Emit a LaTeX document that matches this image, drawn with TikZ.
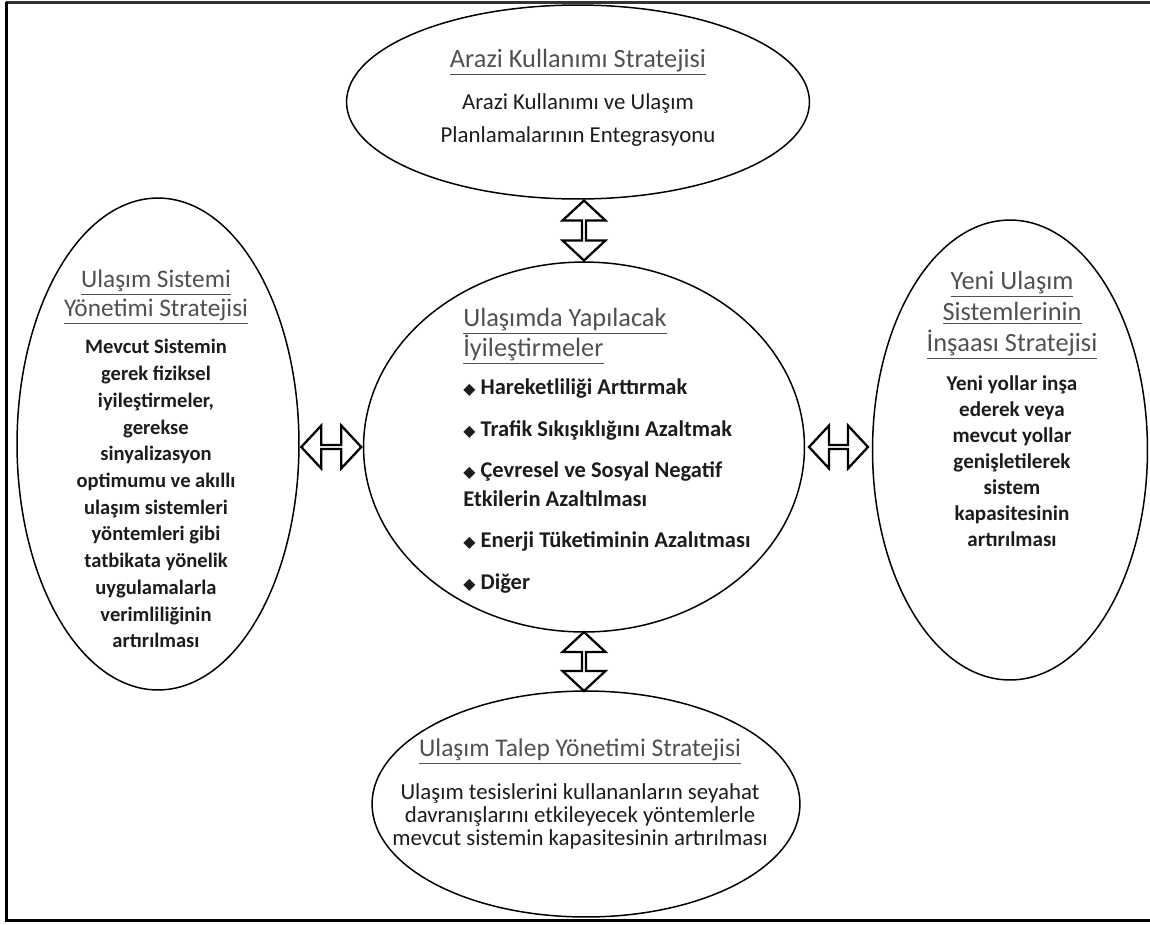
\documentclass[tikz,border=0pt]{standalone}
\usepackage{fontspec}
\setmainfont{Carlito}
\newfontfamily\symfont{DejaVu Sans}
\usepackage{xcolor}
\usetikzlibrary{positioning, shapes.geometric, shapes.arrows, calc}

\definecolor{headgray}{HTML}{505050}
\definecolor{bodyblack}{HTML}{1C1C1C}
\newcommand{\ulhead}[1]{\underline{#1}}
\newcommand{\itm}{{\symfont\fontsize{9pt}{9pt}\selectfont ◆}\ }

\begin{document}
\begin{tikzpicture}[x=0.02cm, y=-0.02cm,
  ell/.style={draw, ellipse, line width=0.85pt, inner sep=0pt},
  head/.style={align=center, text=headgray, inner sep=0pt},
  body/.style={align=center, text=bodyblack, inner sep=0pt},
  dblarrow/.style={draw, double arrow, line width=1.3pt, fill=white, inner sep=0pt,
    minimum width=0.86cm, double arrow head extend=0.23cm, double arrow tip angle=94}]
\useasboundingbox (0,0) rectangle (1150,924);

% Frame
\draw[black!80, line width=1.7pt] (1150,2.5) -- (5.6,2.5);
\draw[line width=1.7pt] (6.5,1.6) -- (6.5,920.5) -- (1150,920.5);

% Ellipses
\node[ell, minimum width=9.26cm, minimum height=3.88cm] (land) at (578,102) {};
\node[ell, minimum width=8.82cm, minimum height=7.4cm] (goal) at (584,447) {};
\node[ell, minimum width=5.64cm, minimum height=9.84cm] (sysman) at (158,444) {};
\node[ell, minimum width=5.5cm, minimum height=9.2cm] (newsys) at (1010,450) {};
\node[ell, minimum width=8.56cm, minimum height=4.52cm] (demand) at (586,804) {};

% Texts
\node[head, anchor=north, font=\fontsize{15pt}{18pt}\selectfont] (landhead) at (578,49) {\ulhead{Arazi Kullanımı Stratejisi}};
\node[body, below=10pt of landhead, font=\fontsize{13pt}{18.8pt}\selectfont] (landbody) {Arazi Kullanımı ve Ulaşım\\Planlamalarının Entegrasyonu};

\node[head, anchor=north, font=\fontsize{14.4pt}{16.5pt}\selectfont] (sysmanhead) at (156,270) {\ulhead{Ulaşım Sistemi}\\\ulhead{Yönetimi Stratejisi}};
\node[body, below=8pt of sysmanhead, font=\bfseries\fontsize{11.7pt}{15.2pt}\selectfont] (sysmanbody) {Mevcut Sistemin\\gerek fiziksel\\iyileştirmeler,\\gerekse\\sinyalizasyon\\optimumu ve akıllı\\ulaşım sistemleri\\yöntemleri gibi\\tatbikata yönelik\\uygulamalarla\\verimliliğinin\\artırılması};

\node[head, anchor=north, font=\fontsize{15pt}{17.6pt}\selectfont] (newsyshead) at (1012,271) {\ulhead{Yeni Ulaşım}\\\ulhead{Sistemlerinin}\\\ulhead{İnşaası Stratejisi}};
\node[body, below=9pt of newsyshead, font=\bfseries\fontsize{12pt}{14.8pt}\selectfont] (newsysbody) {Yeni yollar inşa\\ederek veya\\mevcut yollar\\genişletilerek\\sistem\\kapasitesinin\\artırılması};

\node[head, align=left, anchor=north west, font=\fontsize{15pt}{17pt}\selectfont] (goalhead) at (463,308) {\ulhead{Ulaşımda Yapılacak}\\\ulhead{İyileştirmeler}};
\node[body, align=left, anchor=north west, font=\bfseries\fontsize{12.8pt}{16.5pt}\selectfont] (goalbody) at ($(goalhead.south west)+(0,14)$) {\itm Hareketliliği Arttırmak\\[7pt]\itm Trafik Sıkışıklığını Azaltmak\\[7pt]\itm Çevresel ve Sosyal Negatif\\Etkilerin Azaltılması\\[7pt]\itm Enerji Tüketiminin Azalıtması\\[7pt]\itm Diğer};

\node[head, anchor=north, font=\fontsize{14.5pt}{16pt}\selectfont] (demandhead) at (580,738) {\ulhead{Ulaşım Talep Yönetimi Stratejisi}};
\node[body, below=11pt of demandhead, font=\fontsize{13pt}{12.9pt}\selectfont] (demandbody) {Ulaşım tesislerini kullananların seyahat\\davranışlarını etkileyecek yöntemlerle\\mevcut sistemin kapasitesinin artırılması};

% Arrows
\path (goal.north) -- node[dblarrow, sloped, minimum height=1.2cm] {} (goal.north |- land.south);
\path (goal.west) -- node[dblarrow, sloped, minimum height=1.2cm] {} (goal.west -| sysman.east);
\path (goal.east) -- node[dblarrow, sloped, minimum height=1.18cm] {} (goal.east -| newsys.west);
\path (goal.south) -- node[dblarrow, sloped, minimum height=1.18cm] {} (goal.south |- demand.north);

\end{tikzpicture}
\end{document}
